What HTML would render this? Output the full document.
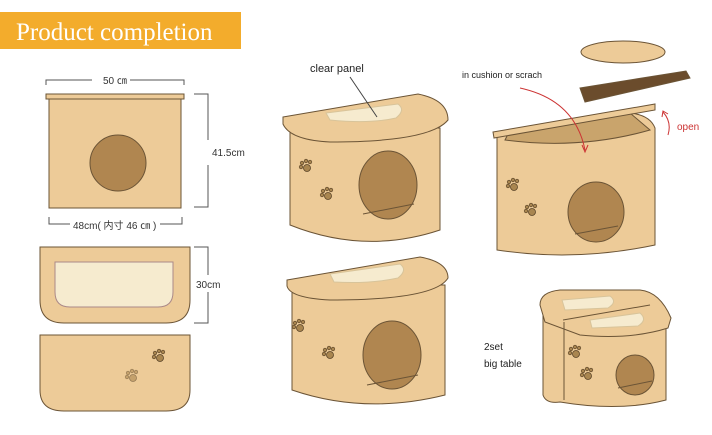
<!DOCTYPE html>
<html><head><meta charset="utf-8"><style>
body{margin:0;background:#fff;width:712px;height:430px;overflow:hidden;font-family:"Liberation Sans","Noto Sans CJK JP",sans-serif}
</style></head><body>
<svg width="712" height="430" viewBox="0 0 712 430" xmlns="http://www.w3.org/2000/svg" font-family="Liberation Sans, Noto Sans CJK JP, sans-serif">
<defs>
<g id="paw"><circle cx="0" cy="0" r="3.5" fill="#a98650" stroke="#5a4428" stroke-width="0.8"/><circle cx="-5" cy="-5" r="1.8" fill="#a98650" stroke="#5a4428" stroke-width="0.6"/><circle cx="-1" cy="-7" r="1.8" fill="#a98650" stroke="#5a4428" stroke-width="0.6"/><circle cx="3" cy="-6" r="1.8" fill="#a98650" stroke="#5a4428" stroke-width="0.6"/><circle cx="-6" cy="-1" r="1.8" fill="#a98650" stroke="#5a4428" stroke-width="0.6"/></g>
</defs>
<rect x="0" y="12" width="241" height="37" fill="#F3AC2C"/>
<text x="16" y="40" font-family="Liberation Serif, serif" font-size="25" fill="#fff">Product completion</text>
<g stroke="#555" stroke-width="1" fill="none">
<path d="M46 85V80H92M130 80H184V85"/><path d="M194 94H208V140M208 165V207H194"/><path d="M49 217V224H70M160 224H182V217"/><path d="M194 247H208V275M208 292V323H194"/>
</g>
<g font-size="10" fill="#333"><text x="103" y="84">50 ㎝</text><text x="212" y="156">41.5cm</text><text x="73" y="229">48cm( 内寸 46 ㎝ )</text><text x="196" y="288">30cm</text><text x="105" y="170">200π</text></g>
<g stroke="#6b5436" stroke-width="1">
<rect x="49" y="98" width="132" height="110" fill="#EDCB98"/>
<rect x="46" y="94" width="138" height="5" fill="#EDCB98"/>
<circle cx="118" cy="163" r="28" fill="#B08650"/>
<path d="M40 247H190V300Q190 323 166 323H64Q40 323 40 300Z" fill="#EDCB98"/>
<path d="M55 262H173V292Q173 307 158 307H70Q55 307 55 292Z" fill="#F6EBCF" stroke="#a88"/>
<path d="M40 335H190V390Q190 411 166 411H64Q40 411 40 390Z" fill="#EDCB98"/>
</g>
<use href="#paw" x="160" y="358"/><use href="#paw" x="133" y="378" opacity="0.6"/>
<g stroke="#6b5436" stroke-width="1">
<path d="M290 128V225Q365 255 440 230V128Z" fill="#EDCB98"/>
<path d="M283 117L418 94Q448 100 448 120Q430 142 330 142Q290 140 283 124Z" fill="#EDCB98"/>
<path d="M326 113L398 104Q406 110 396 118Q370 124 330 120Z" fill="#F6EBCF" stroke="#d8c49a"/>
<ellipse cx="388" cy="185" rx="29" ry="34" fill="#B08650"/>
<path d="M363 214L414 204" />
</g>
<line x1="350" y1="77" x2="377" y2="117" stroke="#444"/>
<text x="310" y="72" font-size="11" fill="#222">clear panel</text>
<use href="#paw" x="307" y="168"/><use href="#paw" x="328" y="196"/>
<g stroke="#6b5436" stroke-width="1">
<path d="M292 285V390Q365 415 445 395V285Z" fill="#EDCB98"/>
<path d="M287 280L420 257Q448 262 448 278Q435 300 330 300Q290 298 287 286Z" fill="#EDCB98"/>
<path d="M330 274L400 264Q408 270 398 278Q370 284 334 282Z" fill="#F6EBCF" stroke="#d8c49a"/>
<ellipse cx="392" cy="355" rx="29" ry="34" fill="#B08650"/>
<path d="M367 385L418 375"/>
</g>
<use href="#paw" x="300" y="328"/><use href="#paw" x="330" y="355"/>
<g stroke="#6b5436" stroke-width="1">
<path d="M497 133V250Q575 262 655 245V128Q650 115 630 113L500 133Z" fill="#EDCB98"/>
<path d="M505 140Q580 150 650 130L630 113L510 130Z" fill="#C9A46C"/>
<path d="M493 132L655 104L655 110L494 138Z" fill="#EDCB98"/>
<ellipse cx="596" cy="212" rx="28" ry="30" fill="#B08650"/>
<path d="M575 234L618 226"/>
<ellipse cx="623" cy="52" rx="42" ry="11" fill="#EDCB98"/>
<path d="M580 88L686 71L690 78L585 102Z" fill="#6b4c2c"/>
</g>
<use href="#paw" x="514" y="187"/><use href="#paw" x="532" y="212"/>
<text x="462" y="78" font-size="9" fill="#222">in cushion  or scrach</text>
<path d="M520 88Q575 100 585 150" stroke="#c33" fill="none"/>
<path d="M582 145L585 152L588 145" stroke="#c33" fill="none"/>
<path d="M668 135Q672 122 663 112" stroke="#c33" fill="none"/>
<path d="M662 117L663 111L668 114" stroke="#c33" fill="none"/>
<text x="677" y="130" font-size="10" fill="#c33">open</text>
<g stroke="#6b5436" stroke-width="1">
<path d="M543 310V395Q546 404 560 402Q620 412 666 400V325Z" fill="#EDCB98"/>
<path d="M540 305Q540 292 560 290L640 290Q660 292 671 318L668 328Q630 340 580 335L545 322Z" fill="#EDCB98"/>
<path d="M563 320L650 305"/>
<path d="M562 300L610 296Q618 302 608 308L565 310Z" fill="#F6EBCF" stroke="#d8c49a"/>
<path d="M590 320L640 313Q648 320 638 326L592 328Z" fill="#F6EBCF" stroke="#d8c49a"/>
<path d="M564 322V400"/>
<ellipse cx="635" cy="375" rx="19" ry="20" fill="#B08650"/>
<path d="M618 388L652 381"/>
</g>
<use href="#paw" x="576" y="354"/><use href="#paw" x="588" y="376"/>
<text x="484" y="350" font-size="10" fill="#222">2set</text>
<text x="484" y="367" font-size="10" fill="#222">big table</text>
</svg>
</body></html>
